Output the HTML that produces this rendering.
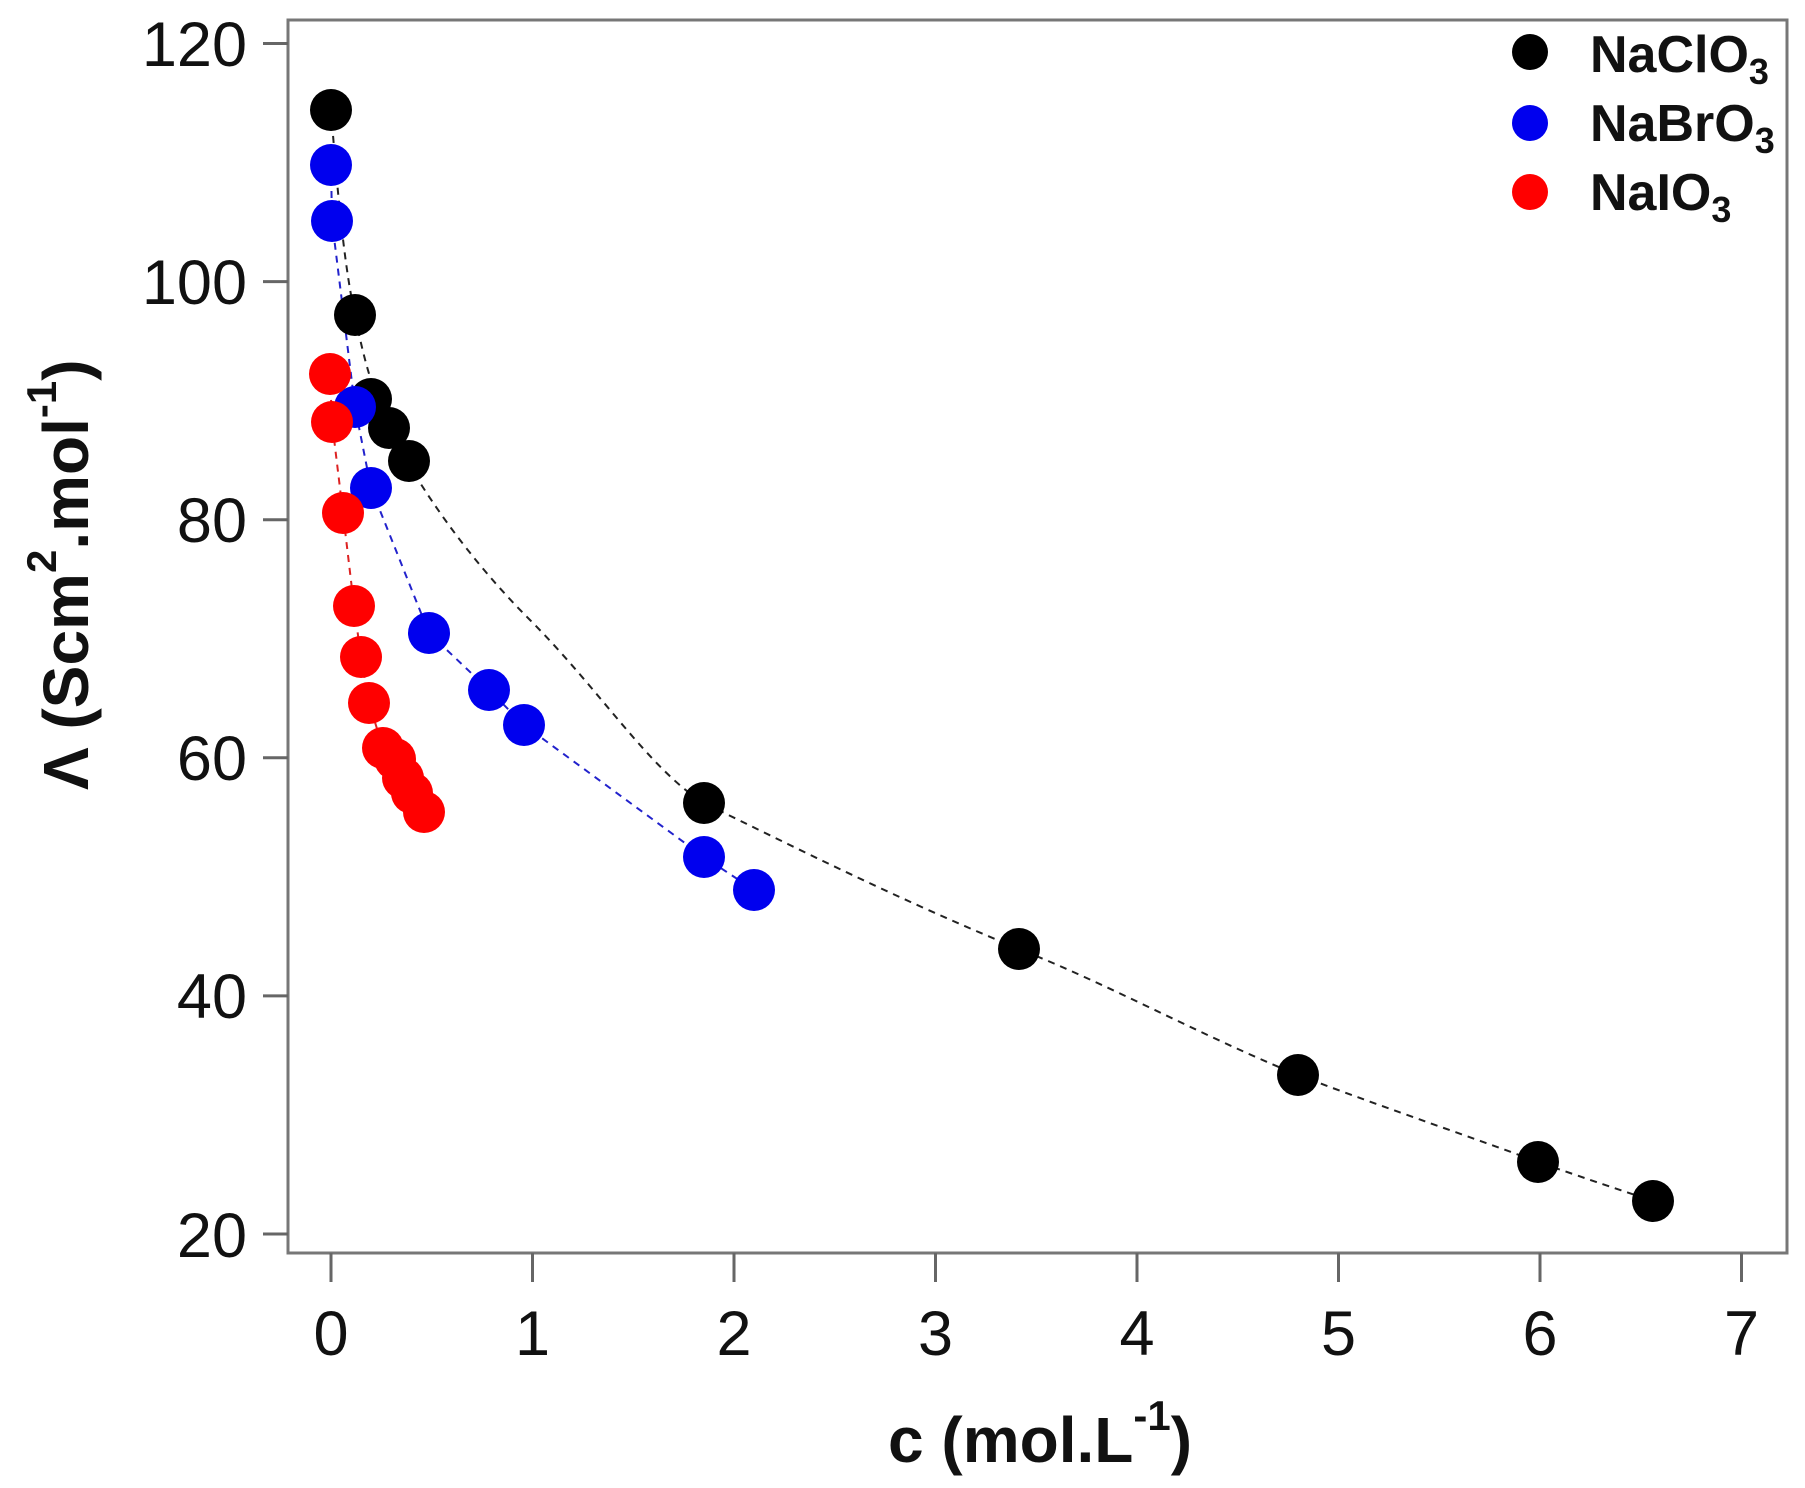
<!DOCTYPE html>
<html><head><meta charset="utf-8"><style>html,body{margin:0;padding:0;background:#fff}svg{display:block}</style></head>
<body>
<svg width="1805" height="1488" viewBox="0 0 1805 1488" xmlns="http://www.w3.org/2000/svg" font-family="Liberation Sans, sans-serif">
<rect width="1805" height="1488" fill="#fff"/>
<rect x="288" y="20" width="1499" height="1233" fill="none" stroke="#777" stroke-width="3"/>
<g stroke="#666" stroke-width="3">
<line x1="263" y1="43.5" x2="288" y2="43.5"/><line x1="263" y1="281.6" x2="288" y2="281.6"/><line x1="263" y1="519.7" x2="288" y2="519.7"/><line x1="263" y1="757.8" x2="288" y2="757.8"/><line x1="263" y1="995.9" x2="288" y2="995.9"/><line x1="263" y1="1234" x2="288" y2="1234"/>
<line x1="331" y1="1253" x2="331" y2="1282"/><line x1="532.5" y1="1253" x2="532.5" y2="1282"/><line x1="734" y1="1253" x2="734" y2="1282"/><line x1="935.5" y1="1253" x2="935.5" y2="1282"/><line x1="1137" y1="1253" x2="1137" y2="1282"/><line x1="1338.5" y1="1253" x2="1338.5" y2="1282"/><line x1="1540" y1="1253" x2="1540" y2="1282"/><line x1="1741.5" y1="1253" x2="1741.5" y2="1282"/>
</g>
<g font-size="63" fill="#111" text-anchor="end">
<text x="247" y="66">120</text><text x="247" y="304">100</text><text x="247" y="542">80</text><text x="247" y="780">60</text><text x="247" y="1018">40</text><text x="247" y="1257">20</text>
</g>
<g font-size="63" fill="#111" text-anchor="middle">
<text x="331" y="1355">0</text><text x="532.5" y="1355">1</text><text x="734" y="1355">2</text><text x="935.5" y="1355">3</text><text x="1137" y="1355">4</text><text x="1338.5" y="1355">5</text><text x="1540" y="1355">6</text><text x="1741.5" y="1355">7</text>
</g>
<text x="888" y="1462" font-size="64" font-weight="bold" fill="#111">c (mol.L<tspan dy="-32" font-size="42">-1</tspan><tspan dy="32">)</tspan></text>
<text transform="translate(88,790) rotate(-90)" font-size="64" font-weight="bold" fill="#111">Λ (Scm<tspan dy="-32" font-size="42">2</tspan><tspan dy="32">.mol</tspan><tspan dy="-32" font-size="42">-1</tspan><tspan dy="32">)</tspan></text>
<g fill="none" stroke-dasharray="7,6" stroke-width="2">
<path stroke="#222" d="M331,110 C338,200 345,270 355,315 C362,350 370,385 389,428 C420,490 470,560 530,620 C600,690 650,770 704,803 C800,850 900,900 1019,949 C1110,985 1200,1035 1298,1075 C1390,1110 1480,1140 1538,1162 C1590,1180 1620,1190 1653,1201"/>
<polyline stroke="#2222cc" points="331,165 332,221 355,407 371,488 429,633 489,690 524,725 704,857 754,890"/>
<polyline stroke="#dd2222" points="330,374 332,422 343,513 354,606 361,657 369,703 383,748 395,759 403,778 412,793 424,812"/>
</g>
<g fill="#000">
<ellipse cx="331" cy="110" rx="21" ry="21"/><ellipse cx="355" cy="315" rx="21" ry="21"/><ellipse cx="371" cy="399" rx="21" ry="21"/><ellipse cx="389" cy="428" rx="21" ry="21"/><ellipse cx="409" cy="461" rx="21" ry="21"/><ellipse cx="704" cy="803" rx="21" ry="21"/><ellipse cx="1019" cy="949" rx="21" ry="21"/><ellipse cx="1298" cy="1075" rx="21" ry="21"/><ellipse cx="1538" cy="1162" rx="21" ry="21"/><ellipse cx="1653" cy="1201" rx="21" ry="21"/>
</g>
<g fill="#0000ee">
<ellipse cx="331" cy="165" rx="21" ry="21"/><ellipse cx="332" cy="221" rx="21" ry="21"/><ellipse cx="355" cy="407" rx="21" ry="21"/><ellipse cx="371" cy="488" rx="21" ry="21"/><ellipse cx="429" cy="633" rx="21" ry="21"/><ellipse cx="489" cy="690" rx="21" ry="21"/><ellipse cx="524" cy="725" rx="21" ry="21"/><ellipse cx="704" cy="857" rx="21" ry="21"/><ellipse cx="754" cy="890" rx="21" ry="21"/>
</g>
<g fill="#ff0000">
<ellipse cx="330" cy="374" rx="21" ry="21"/><ellipse cx="332" cy="422" rx="21" ry="21"/><ellipse cx="343" cy="513" rx="21" ry="21"/><ellipse cx="354" cy="606" rx="21" ry="21"/><ellipse cx="361" cy="657" rx="21" ry="21"/><ellipse cx="369" cy="703" rx="21" ry="21"/><ellipse cx="383" cy="748" rx="21" ry="21"/><ellipse cx="395" cy="759" rx="21" ry="21"/><ellipse cx="403" cy="778" rx="21" ry="21"/><ellipse cx="412" cy="793" rx="21" ry="21"/><ellipse cx="424" cy="812" rx="21" ry="21"/>
</g>
<circle cx="1530" cy="52" r="18" fill="#000"/><circle cx="1530" cy="123" r="18" fill="#0000ee"/><circle cx="1530" cy="192" r="18" fill="#ff0000"/>
<g font-size="52" font-weight="bold" fill="#111">
<text x="1590" y="72">NaClO<tspan dy="12" font-size="36">3</tspan></text>
<text x="1590" y="141">NaBrO<tspan dy="12" font-size="36">3</tspan></text>
<text x="1590" y="210">NaIO<tspan dy="12" font-size="36">3</tspan></text>
</g>
</svg>
</body></html>
